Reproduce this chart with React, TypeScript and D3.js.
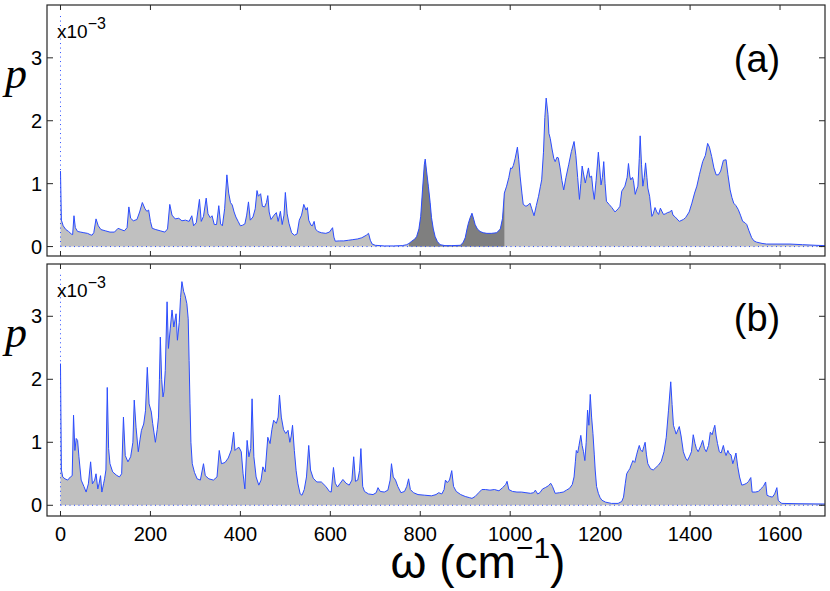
import React from "react";
import * as d3 from "d3";

// ω (cm^-1), p (x1e-3) — panel (a)
const spectrumA: [number, number][] = [
[0,1.20],[2,0.42],[6,0.33],[12,0.27],[18,0.24],[24,0.20],[27,0.19],[30,0.49],[33,0.30],[38,0.24],[45,0.23],[52,0.22],[60,0.21],[66,0.19],[70,0.18],[74,0.22],[79,0.44],[84,0.33],[90,0.27],[100,0.25],[110,0.23],[120,0.23],[128,0.29],[135,0.27],[142,0.25],[148,0.30],[152,0.63],[156,0.45],[162,0.41],[170,0.43],[176,0.55],[182,0.70],[188,0.60],[192,0.56],[196,0.58],[200,0.40],[204,0.29],[212,0.27],[222,0.25],[232,0.23],[238,0.28],[243,0.67],[248,0.50],[255,0.44],[263,0.45],[270,0.41],[278,0.42],[286,0.40],[292,0.49],[296,0.33],[302,0.38],[309,0.75],[313,0.40],[318,0.48],[324,0.77],[328,0.52],[333,0.46],[337,0.49],[342,0.35],[347,0.35],[352,0.65],[356,0.36],[360,0.33],[365,0.60],[370,1.14],[374,0.85],[378,0.70],[382,0.66],[386,0.55],[390,0.47],[395,0.40],[400,0.33],[405,0.34],[410,0.36],[414,0.50],[418,0.71],[422,0.42],[428,0.47],[433,0.60],[437,0.89],[440,0.80],[445,0.84],[449,0.64],[454,0.63],[458,0.70],[461,0.81],[464,0.55],[468,0.43],[475,0.50],[480,0.54],[484,0.40],[489,0.56],[493,0.35],[497,0.50],[500,0.86],[504,0.52],[508,0.37],[514,0.22],[520,0.18],[526,0.20],[531,0.42],[536,0.50],[541,0.67],[546,0.58],[549,0.62],[552,0.42],[557,0.34],[560,0.33],[564,0.40],[567,0.28],[572,0.24],[580,0.22],[590,0.21],[598,0.23],[605,0.30],[608,0.15],[611,0.085],[620,0.09],[630,0.09],[640,0.10],[650,0.11],[660,0.12],[670,0.14],[680,0.18],[685,0.21],[689,0.10],[693,0.04],[700,0.02],[720,0.01],[740,0.01],[760,0.015],[770,0.03],[775,0.05],[781,0.085],[788,0.12],[792,0.16],[797,0.28],[801,0.48],[805,0.90],[809,1.30],[811,1.39],[814,1.20],[818,0.96],[822,0.70],[825,0.46],[829,0.28],[833,0.16],[838,0.08],[844,0.03],[855,0.015],[870,0.015],[889,0.02],[895,0.06],[900,0.14],[904,0.28],[907,0.37],[911,0.46],[915,0.53],[919,0.43],[922,0.35],[927,0.28],[933,0.24],[940,0.22],[948,0.21],[958,0.21],[970,0.22],[978,0.28],[983,0.45],[987,0.85],[992,0.96],[997,1.10],[1001,1.25],[1004,1.24],[1007,1.29],[1011,1.40],[1016,1.58],[1019,1.38],[1022,1.12],[1026,0.85],[1029,0.67],[1035,0.64],[1040,0.66],[1044,0.69],[1048,0.60],[1053,0.49],[1058,0.65],[1063,0.80],[1067,0.95],[1070,1.06],[1074,1.50],[1077,2.05],[1080,2.36],[1084,2.10],[1086,1.80],[1089,1.72],[1093,1.55],[1097,1.40],[1100,1.35],[1104,1.42],[1107,1.41],[1111,1.25],[1115,1.05],[1119,0.90],[1124,1.10],[1130,1.30],[1136,1.51],[1142,1.67],[1146,1.45],[1150,1.10],[1154,0.75],[1157,1.00],[1160,1.28],[1164,1.12],[1167,1.01],[1171,1.15],[1174,1.25],[1177,1.10],[1181,1.12],[1184,0.90],[1187,0.75],[1191,1.05],[1196,1.50],[1199,1.25],[1202,0.98],[1205,1.10],[1208,1.35],[1211,1.00],[1214,0.72],[1220,0.67],[1226,0.62],[1233,0.55],[1240,0.60],[1244,0.64],[1248,0.88],[1255,0.96],[1260,1.10],[1263,1.32],[1266,1.12],[1268,1.06],[1272,1.10],[1274,1.05],[1278,0.83],[1281,0.90],[1284,0.96],[1287,1.40],[1289,1.76],[1292,1.30],[1295,0.96],[1298,1.10],[1301,1.33],[1304,1.10],[1306,0.93],[1310,0.80],[1315,0.48],[1318,0.52],[1322,0.62],[1326,0.55],[1330,0.51],[1334,0.61],[1338,0.55],[1341,0.51],[1345,0.52],[1350,0.54],[1355,0.55],[1359,0.58],[1362,0.50],[1367,0.47],[1376,0.40],[1385,0.43],[1390,0.46],[1398,0.55],[1404,0.69],[1410,0.85],[1415,0.96],[1421,1.15],[1428,1.35],[1434,1.45],[1439,1.64],[1443,1.58],[1448,1.43],[1453,1.25],[1458,1.14],[1463,1.14],[1468,1.20],[1474,1.37],[1480,1.38],[1484,1.15],[1489,0.90],[1493,0.78],[1497,0.69],[1502,0.65],[1507,0.59],[1512,0.50],[1517,0.40],[1522,0.38],[1526,0.35],[1531,0.25],[1537,0.14],[1542,0.09],[1548,0.07],[1560,0.05],[1570,0.04],[1600,0.04],[1622,0.04],[1650,0.03],[1680,0.02],[1700,0.015]
];

// ω (cm^-1), p (x1e-3) — panel (b)
const spectrumB: [number, number][] = [
[0,2.25],[2,0.56],[5,0.45],[10,0.42],[16,0.40],[22,0.45],[26,0.47],[29,1.43],[32,0.87],[35,1.06],[38,1.03],[41,0.77],[46,0.40],[52,0.30],[57,0.21],[62,0.34],[67,0.69],[71,0.34],[76,0.40],[79,0.50],[83,0.26],[86,0.35],[89,0.47],[92,0.21],[96,0.35],[98,0.42],[101,0.56],[104,1.87],[107,0.90],[110,0.66],[116,0.53],[124,0.48],[131,0.45],[136,0.50],[140,1.40],[144,0.79],[150,0.69],[156,0.77],[161,1.00],[164,1.67],[168,1.24],[173,0.85],[177,1.05],[180,1.19],[185,1.29],[189,1.50],[193,2.19],[197,1.61],[202,1.48],[205,1.30],[208,1.15],[211,1.00],[215,1.20],[218,1.40],[220,2.00],[222,2.67],[225,2.00],[228,1.72],[230,1.80],[233,2.14],[237,3.23],[240,2.49],[244,2.80],[248,3.10],[252,2.83],[257,3.04],[260,2.62],[264,2.90],[267,3.30],[270,3.55],[274,3.39],[277,3.33],[281,3.20],[284,2.96],[286,2.30],[288,1.61],[290,1.00],[293,0.66],[298,0.52],[304,0.42],[311,0.40],[318,0.66],[322,0.47],[330,0.42],[340,0.40],[348,0.45],[353,0.87],[358,0.66],[366,0.68],[373,0.75],[380,0.88],[385,1.16],[388,0.87],[392,0.90],[397,0.92],[402,0.85],[406,0.50],[410,0.26],[415,1.03],[419,0.77],[423,0.90],[426,1.69],[430,0.77],[435,0.45],[441,0.32],[446,0.40],[450,0.61],[455,0.53],[461,1.08],[466,0.98],[470,1.20],[474,1.35],[480,1.30],[484,1.40],[487,1.75],[491,1.40],[496,1.20],[501,1.14],[506,1.19],[510,1.00],[513,1.10],[516,1.27],[520,0.87],[524,0.55],[528,0.34],[533,0.18],[537,0.16],[542,0.25],[547,0.45],[552,0.95],[556,0.56],[562,0.43],[570,0.37],[580,0.37],[590,0.30],[598,0.22],[602,0.21],[607,0.60],[611,0.35],[616,0.29],[622,0.35],[628,0.41],[635,0.35],[642,0.32],[648,0.40],[652,0.77],[656,0.38],[661,0.40],[665,0.55],[668,0.90],[672,0.30],[676,0.22],[685,0.18],[695,0.17],[702,0.20],[706,0.28],[711,0.22],[720,0.21],[728,0.24],[733,0.40],[736,0.66],[740,0.45],[745,0.40],[750,0.30],[757,0.20],[765,0.22],[770,0.30],[774,0.42],[778,0.25],[785,0.20],[795,0.17],[810,0.16],[825,0.15],[835,0.17],[841,0.20],[848,0.18],[853,0.25],[856,0.40],[860,0.36],[865,0.40],[870,0.55],[874,0.30],[880,0.22],[890,0.17],[900,0.14],[910,0.12],[915,0.11],[922,0.14],[930,0.20],[937,0.25],[945,0.25],[955,0.24],[965,0.25],[975,0.23],[983,0.28],[990,0.33],[993,0.38],[997,0.25],[1005,0.22],[1015,0.21],[1025,0.21],[1035,0.20],[1045,0.19],[1052,0.20],[1056,0.24],[1061,0.18],[1066,0.20],[1072,0.26],[1078,0.28],[1085,0.31],[1090,0.35],[1094,0.30],[1100,0.19],[1110,0.20],[1118,0.21],[1125,0.24],[1132,0.27],[1138,0.33],[1142,0.45],[1145,0.70],[1147,0.87],[1150,0.83],[1153,0.95],[1157,1.11],[1160,0.95],[1163,0.85],[1166,0.71],[1169,1.00],[1172,1.51],[1175,1.27],[1178,1.76],[1181,1.40],[1184,1.14],[1187,0.80],[1189,0.56],[1192,0.30],[1196,0.19],[1200,0.12],[1204,0.08],[1212,0.05],[1225,0.03],[1240,0.03],[1248,0.06],[1252,0.13],[1256,0.35],[1259,0.50],[1263,0.55],[1266,0.58],[1270,0.66],[1273,0.71],[1277,0.68],[1281,0.80],[1284,0.88],[1287,0.95],[1290,0.88],[1294,0.85],[1297,0.93],[1300,1.00],[1303,0.80],[1306,0.66],[1312,0.58],[1318,0.56],[1324,0.60],[1330,0.64],[1336,0.70],[1342,0.85],[1347,1.08],[1352,1.51],[1357,1.96],[1360,1.60],[1363,1.27],[1366,1.20],[1369,1.13],[1373,1.20],[1376,1.25],[1380,1.10],[1385,0.85],[1390,0.75],[1394,0.71],[1399,0.78],[1403,0.85],[1407,1.12],[1411,0.98],[1414,0.90],[1418,0.85],[1424,0.95],[1428,1.03],[1432,0.90],[1436,0.85],[1441,0.95],[1445,1.16],[1449,1.12],[1452,1.20],[1455,1.27],[1458,1.10],[1461,0.98],[1465,0.85],[1469,0.83],[1474,0.95],[1477,0.85],[1480,0.79],[1484,0.87],[1487,0.82],[1491,0.80],[1495,0.66],[1499,0.75],[1502,0.83],[1506,0.61],[1510,0.45],[1515,0.32],[1520,0.33],[1526,0.35],[1530,0.38],[1535,0.44],[1538,0.21],[1545,0.21],[1552,0.22],[1557,0.26],[1563,0.30],[1568,0.37],[1571,0.16],[1577,0.14],[1583,0.13],[1588,0.18],[1593,0.28],[1596,0.08],[1600,0.05],[1604,0.03],[1640,0.025],[1700,0.02]
];

const xTicks = [0, 200, 400, 600, 800, 1000, 1200, 1400, 1600];
const yTicks = [0, 1, 2, 3];
const xDomain: [number, number] = [-30, 1700];
const darkBand: [number, number] = [775, 987];
const panelLabels = ["(a)", "(b)"];

const W = 830, H = 591;
const left = 47, right = 825;
const FONT = "'Liberation Sans', Arial, Helvetica, sans-serif";
const BLUE = "#2b4cff";

const x = d3.scaleLinear().domain(xDomain).range([left, right]);

function Panel({ data, top, bottom, yDomain, label, dark, id }: any) {
  const y = d3.scaleLinear().domain(yDomain).range([bottom, top]);
  const area = d3.area<[number, number]>().x(d => x(d[0])).y0(y(0)).y1(d => y(d[1]));
  const line = d3.line<[number, number]>().x(d => x(d[0])).y(d => y(d[1]));
  const fillPath = area(data) || "";
  return (
    <g>
      <defs>
        <clipPath id={`clip-${id}`}>
          <rect x={left} y={top} width={right - left} height={bottom - top} />
        </clipPath>
        {dark && (
          <clipPath id={`dark-${id}`}>
            <rect x={x(dark[0])} y={top} width={x(dark[1]) - x(dark[0])} height={bottom - top} />
          </clipPath>
        )}
      </defs>
      <g clipPath={`url(#clip-${id})`}>
        <path d={fillPath} fill="#c0c0c0" stroke="none" />
        {dark && <path d={fillPath} fill="#7f7f7f" stroke="none" clipPath={`url(#dark-${id})`} />}
        <line x1={x(0)} x2={x(1700)} y1={y(0)} y2={y(0)} stroke={BLUE} strokeWidth={1} strokeDasharray="1,3.5" />
        <line x1={x(0)} x2={x(0)} y1={y(0)} y2={y(3.68)} stroke={BLUE} strokeWidth={1} strokeDasharray="1,3.5" />
        <path d={line(data) || ""} fill="none" stroke={BLUE} strokeWidth={1} strokeLinejoin="round" />
      </g>
      <rect x={left} y={top} width={right - left} height={bottom - top} fill="none" stroke="#262626" strokeWidth={1.2} />
      {xTicks.map(t => (
        <g key={"xt" + t}>
          <line x1={x(t)} x2={x(t)} y1={bottom} y2={bottom - 5} stroke="#262626" strokeWidth={1} />
          <line x1={x(t)} x2={x(t)} y1={top} y2={top + 5} stroke="#262626" strokeWidth={1} />
        </g>
      ))}
      {yTicks.map(t => (
        <g key={"yt" + t}>
          <line x1={left} x2={left + 6} y1={y(t)} y2={y(t)} stroke="#262626" strokeWidth={1} />
          <line x1={right} x2={right - 6} y1={y(t)} y2={y(t)} stroke="#262626" strokeWidth={1} />
          <text x={42} y={y(t)} dy="0.36em" textAnchor="end" fontFamily={FONT} fontSize={20} fill="#000">{t}</text>
        </g>
      ))}
      <text x={57} y={top + 33} fontFamily={FONT} fontSize={19} fill="#000">
        x10<tspan dy={-9} fontSize={16}>−3</tspan>
      </text>
      <text x={757} y={top + 67} textAnchor="middle" fontFamily={FONT} fontSize={38} fill="#000">{label}</text>
      <text x={16} y={top + 83} textAnchor="middle" fontFamily="'Liberation Serif', 'Times New Roman', serif" fontStyle="italic" fontSize={44} fill="#000">p</text>
    </g>
  );
}

export default function App() {
  return (
    <div style={{ position: "absolute", left: 0, top: 0 }}>
      <svg width={W} height={H} viewBox={`0 0 ${W} ${H}`} style={{ display: "block", background: "#fff" }}>
        <rect width={W} height={H} fill="#fff" />
        <Panel data={spectrumA} top={5} bottom={256} yDomain={[-0.15, 3.84]} label={panelLabels[0]} dark={darkBand} id="a" />
        <Panel data={spectrumB} top={264} bottom={516} yDomain={[-0.17, 3.83]} label={panelLabels[1]} id="b" />
        {xTicks.map(t => (
          <text key={"xl" + t} x={x(t)} y={541} textAnchor="middle" fontFamily={FONT} fontSize={20} fill="#000">{t}</text>
        ))}
        <text x={478} y={578} textAnchor="middle" fontFamily={FONT} fontSize={46} fill="#000">
          ω (cm<tspan dy={-20} fontSize={30}>−1</tspan><tspan dy={20}>)</tspan>
        </text>
      </svg>
    </div>
  );
}
